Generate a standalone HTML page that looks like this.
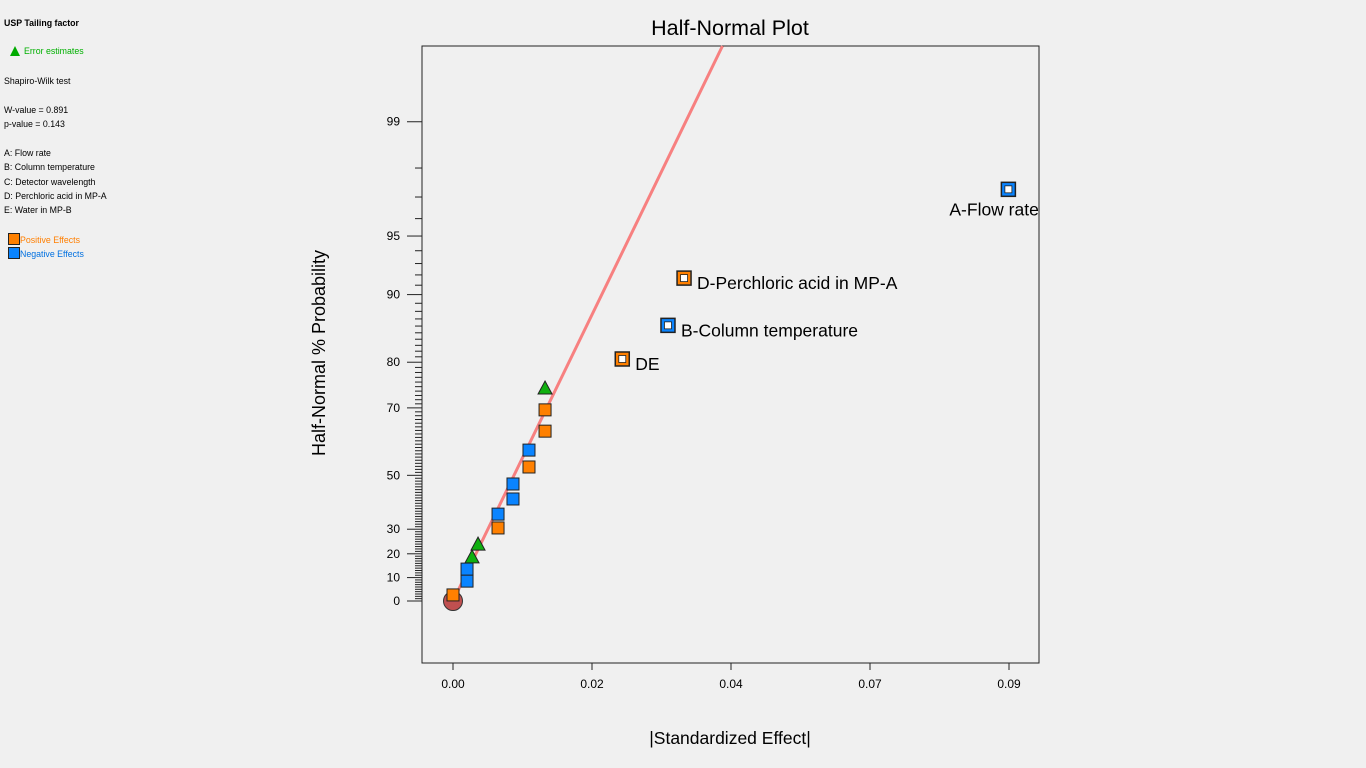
<!DOCTYPE html>
<html><head><meta charset="utf-8"><style>
body{margin:0;background:#f0f0f0;font-family:"Liberation Sans",sans-serif;}
#side{position:absolute;left:4px;top:0;font-size:8.8px;color:#000;}
#side div{position:absolute;white-space:nowrap;}
</style></head><body>
<div id="side">
<div style="top:18px;font-weight:bold">USP Tailing factor</div>
<div style="top:46px;left:6px;color:#00b000"><span style="display:inline-block;width:0;height:0;border-left:5px solid transparent;border-right:5px solid transparent;border-bottom:10px solid #0a0;vertical-align:-2px;margin-right:4px"></span>Error estimates</div>
<div style="top:76px">Shapiro-Wilk test</div>
<div style="top:105px">W-value = 0.891</div>
<div style="top:119px">p-value = 0.143</div>
<div style="top:148px">A: Flow rate</div>
<div style="top:162px">B: Column temperature</div>
<div style="top:177px">C: Detector wavelength</div>
<div style="top:191px">D: Perchloric acid in MP-A</div>
<div style="top:205px">E: Water in MP-B</div>
<div style="top:233px;left:4px;color:#ff7f00"><span style="display:inline-block;width:10px;height:10px;background:#ff8000;border:1px solid #222;vertical-align:-2px"></span>Positive Effects</div>
<div style="top:247px;left:4px;color:#0070e0"><span style="display:inline-block;width:10px;height:10px;background:#0a84ff;border:1px solid #222;vertical-align:-2px"></span>Negative Effects</div>
</div>
<svg id="chart" width="1366" height="768" style="position:absolute;left:0;top:0"></svg>
<script>
const effects=[0,0.00227,0.00227,0.00308,0.00405,0.00729,0.00729,0.00971,0.00971,0.0123,0.0123,0.0149,0.0149,0.0149,0.0274,0.0348,0.0374,0.0899];
const probs=[2.6,8.5,13.6,18.7,24.0,30.5,35.9,41.6,47.0,52.8,58.2,63.8,69.5,74.7,80.6,86.1,91.7,97.3];
const kinds=["pos","neg","neg","err","err","pos","neg","neg","neg","pos","neg","pos","pos","err","pos","neg","pos","neg"];
const labels=["","","","","","","","","","","","","","","DE","B-Column temperature","D-Perchloric acid in MP-A","A-Flow rate"];
const xTicks=[0,0.0225,0.045,0.0675,0.09];
const xTickLabels=["0.00","0.02","0.04","0.07","0.09"];
const yTicks=[0,10,20,30,50,70,80,90,95,99];
const lineSlope=68.3;
const svg=document.getElementById('chart');const NS='http://www.w3.org/2000/svg';
function mk(t,a,p){const e=document.createElementNS(NS,t);for(const k in a)e.setAttribute(k,a[k]);(p||svg).appendChild(e);return e;}
function erfinv(x){const a=0.147,l=Math.log(1-x*x),t=2/(Math.PI*a)+l/2;return Math.sign(x)*Math.sqrt(Math.sqrt(t*t-l/a)-t);}
function zOf(p){return Math.SQRT2*erfinv(p/100);}
const X=v=>453+v*(139/0.0225);
const Yz=z=>601-z*186.3;
const Y=p=>Yz(zOf(p));
const frame=mk('rect',{x:422,y:46,width:617,height:617,fill:'none',stroke:'#222','stroke-width':1});


let t=mk('text',{x:730,y:35,'font-size':21.5,'text-anchor':'middle'});t.textContent='Half-Normal Plot';


t=mk('text',{x:730,y:744,'font-size':17.5,'text-anchor':'middle'});t.textContent='|Standardized Effect|';


t=mk('text',{x:325,y:353,'font-size':18,'text-anchor':'middle',transform:'rotate(-90 325 353)'});t.textContent='Half-Normal % Probability';


xTicks.forEach((v,i)=>{mk('line',{x1:X(v),x2:X(v),y1:663,y2:670,stroke:'#222'});
const l=mk('text',{x:X(v),y:688,'font-size':12,'text-anchor':'middle'});l.textContent=xTickLabels[i];

});
for(let p=1;p<99;p++){if(yTicks.includes(p))continue;const y=Y(p);mk('line',{x1:415,x2:422,y1:y,y2:y,stroke:'#222'});}
yTicks.forEach(p=>{const y=Y(p);mk('line',{x1:407,x2:422,y1:y,y2:y,stroke:'#222'});
const l=mk('text',{x:400,y:y+4,'font-size':12,'text-anchor':'end'});l.textContent=String(p);

});
const zTop=(601-46)/186.3;
const ln=mk('line',{x1:X(0),y1:Yz(0),x2:X(zTop/lineSlope),y2:Yz(zTop),stroke:'#f78080','stroke-width':3});


const c=mk('circle',{cx:X(0),cy:Yz(0),r:9.5,fill:'#c05050',stroke:'#333'});


effects.forEach((e,i)=>{const x=X(e),y=Y(probs[i]);let m;
if(kinds[i]==='err'){m=mk('polygon',{points:`${x},${y-7} ${x-7},${y+6} ${x+7},${y+6}`,fill:'#10b010',stroke:'#222'});}
else{const big=labels[i]!=='';const col=kinds[i]==='pos'?'#ff8000':'#0a84ff';const h=big?7:6;
m=mk('rect',{x:x-h,y:y-h,width:2*h,height:2*h,fill:col,stroke:'#222','stroke-width':big?1.5:1});
if(big){mk('rect',{x:x-3.5,y:y-3.5,width:7,height:7,fill:'#fff',stroke:'#222','stroke-width':0.8});
const l=mk('text',{x:i===17?x-59:x+13,y:i===17?y+26:y+11,'font-size':17.5});l.textContent=labels[i];

}}

});
</script></body></html>
